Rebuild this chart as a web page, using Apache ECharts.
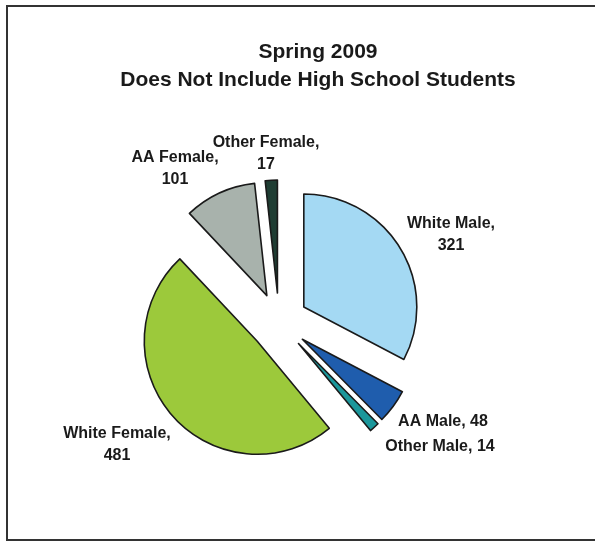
<!DOCTYPE html>
<html>
<head>
<meta charset="utf-8">
<script src="https://cdn.jsdelivr.net/npm/echarts@6/dist/echarts.min.js"></script>
<style>
    html, body { margin: 0; padding: 0; background: #fff; }
    #pieDiv { width: 595px; height: 541px; }
</style>
</head>
<body>
<div id="pieDiv"></div>
<script>
const categories = ["White Male", "AA Male", "Other Male", "White Female", "AA Female", "Other Female"];
const counts = [321, 48, 14, 481, 101, 17];
const singleLine = [false, true, true, false, false, false];

const sliceColors = ["#a4d9f3", "#1f5dad", "#1b979b", "#9cc93b", "#a8b2ac", "#1f3d33"];
// label anchors (centre of each text block)
const labelPos = [[451, 235], [443, 422], [440, 447], [117, 445], [175, 169], [266, 154]];

setPie();

function setPie() {
    let pieChart = echarts.init(document.getElementById("pieDiv"));

    // exploded slices (every slice selected)
    let sliceData = categories.map(function (name, i) {
        return {
            name: name,
            value: counts[i],
            selected: true,
            itemStyle: { color: sliceColors[i] },
        };
    });
    // same values again, only used to carry the labels
    // (labels of selected slices ignore labelLayout)
    let labelData = categories.map(function (name, i) {
        return { name: name, value: counts[i] };
    });

    const pieCenter = [279, 322];
    const pieRadius = 113;

    pieChart.setOption({
        animation: false,
        title: {
            text: "Spring 2009\nDoes Not Include High School Students",
            left: 313,
            top: 33,
            textAlign: "center",
            textStyle: {
                fontFamily: "Liberation Sans, Arial, sans-serif",
                fontWeight: "bold",
                fontSize: 21,
                lineHeight: 28,
                color: "#1a1a1a",
            },
        },
        graphic: [
            {
                type: "rect",
                shape: { x: 7, y: 6, width: 600, height: 534 },
                style: { fill: "none", stroke: "#333", lineWidth: 2 },
                silent: true,
            },
        ],
        series: [
            {
                type: "pie",
                center: pieCenter,
                radius: pieRadius,
                startAngle: 90,
                clockwise: true,
                selectedMode: "multiple",
                selectedOffset: 29,
                emphasis: { disabled: true },
                itemStyle: {
                    borderColor: "#1a1a1a",
                    borderWidth: 1.6,
                },
                label: { show: false },
                labelLine: { show: false },
                data: sliceData,
            },
            {
                type: "pie",
                center: pieCenter,
                radius: pieRadius,
                startAngle: 90,
                clockwise: true,
                silent: true,
                avoidLabelOverlap: false,
                emphasis: { disabled: true },
                itemStyle: { color: "rgba(0,0,0,0)", borderWidth: 0 },
                label: {
                    show: true,
                    position: "outside",
                    fontFamily: "Liberation Sans, Arial, sans-serif",
                    fontWeight: "bold",
                    fontSize: 16,
                    lineHeight: 22,
                    color: "#1a1a1a",
                    align: "center",
                    formatter: function (p) {
                        return singleLine[p.dataIndex]
                            ? p.name + ", " + p.value
                            : p.name + ",\n" + p.value;
                    },
                },
                labelLine: { show: false },
                labelLayout: function (params) {
                    const p = labelPos[params.dataIndex];
                    return {
                        x: p[0],
                        y: p[1],
                        align: "center",
                        verticalAlign: "middle",
                    };
                },
                data: labelData,
            },
        ],
    });
}
</script>
</body>
</html>
